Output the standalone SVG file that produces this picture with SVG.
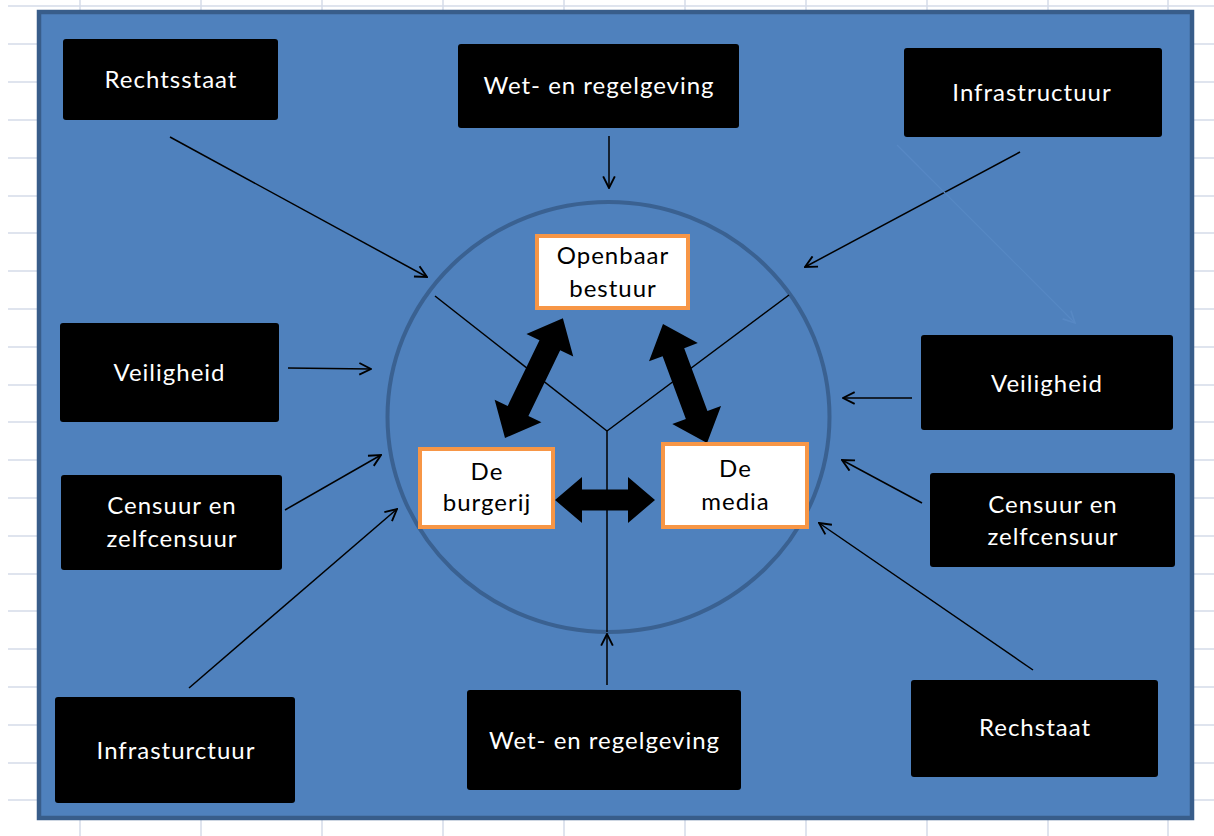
<svg xmlns="http://www.w3.org/2000/svg" width="1214" height="836" viewBox="0 0 1214 836">
<defs>
<style>
.grid line{stroke:#D4DBE8;stroke-width:1.5}
.bx{fill:#000}
.bt{font-family:Lato,"Open Sans",sans-serif;font-size:24px;letter-spacing:1px;fill:#fff;text-anchor:middle}
.ob{fill:#fff;stroke:#F79646;stroke-width:4}
.ot{font-family:Lato,"Open Sans",sans-serif;font-size:24px;letter-spacing:1px;fill:#000;text-anchor:middle}
.con line{stroke:#000;stroke-width:1.5;marker-end:url(#v)}
</style>
<marker id="v" viewBox="0 0 12 12" refX="11" refY="6" markerWidth="14" markerHeight="14" markerUnits="userSpaceOnUse" orient="auto">
<path d="M1,1 L11,6 L1,11" fill="none" stroke="#000" stroke-width="1.6"/>
</marker>
<marker id="vf" viewBox="0 0 12 12" refX="11" refY="6" markerWidth="14" markerHeight="14" markerUnits="userSpaceOnUse" orient="auto">
<path d="M1,1 L11,6 L1,11" fill="none" stroke="#5788C4" stroke-width="1.4"/>
</marker>
</defs>
<rect width="1214" height="836" fill="#fff"/>
<g class="grid">
<line x1="8" y1="6" x2="1214" y2="6"/><line x1="8" y1="44" x2="1214" y2="44"/><line x1="8" y1="82" x2="1214" y2="82"/><line x1="8" y1="120" x2="1214" y2="120"/><line x1="8" y1="158" x2="1214" y2="158"/><line x1="8" y1="196" x2="1214" y2="196"/><line x1="8" y1="233" x2="1214" y2="233"/><line x1="8" y1="271" x2="1214" y2="271"/><line x1="8" y1="309" x2="1214" y2="309"/><line x1="8" y1="347" x2="1214" y2="347"/><line x1="8" y1="385" x2="1214" y2="385"/><line x1="8" y1="422" x2="1214" y2="422"/><line x1="8" y1="460" x2="1214" y2="460"/><line x1="8" y1="498" x2="1214" y2="498"/><line x1="8" y1="536" x2="1214" y2="536"/><line x1="8" y1="574" x2="1214" y2="574"/><line x1="8" y1="611" x2="1214" y2="611"/><line x1="8" y1="649" x2="1214" y2="649"/><line x1="8" y1="687" x2="1214" y2="687"/><line x1="8" y1="725" x2="1214" y2="725"/><line x1="8" y1="763" x2="1214" y2="763"/><line x1="8" y1="800" x2="1214" y2="800"/>
<line x1="80" y1="0" x2="80" y2="836"/><line x1="201" y1="0" x2="201" y2="836"/><line x1="322" y1="0" x2="322" y2="836"/><line x1="443" y1="0" x2="443" y2="836"/><line x1="564" y1="0" x2="564" y2="836"/><line x1="685" y1="0" x2="685" y2="836"/><line x1="806" y1="0" x2="806" y2="836"/><line x1="927" y1="0" x2="927" y2="836"/><line x1="1048" y1="0" x2="1048" y2="836"/><line x1="1168" y1="0" x2="1168" y2="836"/>
</g>
<rect x="39" y="12" width="1153" height="806" fill="#4F81BD" stroke="#385D8A" stroke-width="4.5"/>
<ellipse cx="608.5" cy="417" rx="221" ry="215" fill="none" stroke="#3A6191" stroke-width="4"/>
<g id="radial" stroke="#000" stroke-width="1.5" fill="none">
<line x1="435" y1="296" x2="607" y2="431"/>
<line x1="789" y1="295" x2="607" y2="431"/>
<line x1="607" y1="431" x2="607" y2="632"/>
</g>
<g id="connectors">
<g class="con">
<line x1="170" y1="137" x2="427" y2="277"/>
<line x1="609" y1="136" x2="609" y2="188"/>
<line x1="1020" y1="152" x2="805" y2="267"/>
<line x1="288" y1="368" x2="371" y2="369"/>
<line x1="912" y1="398" x2="843" y2="398"/>
<line x1="285" y1="510" x2="381" y2="455"/>
<line x1="922" y1="503" x2="842" y2="460"/>
<line x1="189" y1="688" x2="397" y2="509"/>
<line x1="607" y1="685" x2="607" y2="634"/>
<line x1="1033" y1="670" x2="819" y2="523"/>
</g>
<line x1="897" y1="145" x2="1075" y2="323" stroke="#5788C4" stroke-width="1.2" marker-end="url(#vf)"/>
<g id="block-arrows" fill="#000">
<path transform="translate(555,500)" d="M0,0 L27,-23 L27,-10.5 L73,-10.5 L73,-23 L100,0 L73,23 L73,10.5 L27,10.5 L27,23 Z"/>
<path transform="translate(505,438) rotate(-64.2)" d="M0,0 L30,-26 L30,-11.5 L103,-11.5 L103,-26 L133,0 L103,26 L103,11.5 L30,11.5 L30,26 Z"/>
<path transform="translate(663,324) rotate(69.7)" d="M0,0 L30,-26 L30,-11.5 L97,-11.5 L97,-26 L127,0 L97,26 L97,11.5 L30,11.5 L30,26 Z"/>
</g>
</g>
<g id="openbaar"><rect class="ob" x="537" y="236" width="151" height="72"/><text class="ot" x="613" y="264">Openbaar</text><text class="ot" x="613" y="297">bestuur</text></g>
<g id="burgerij"><rect class="ob" x="420" y="449" width="133" height="78"/><text class="ot" x="487" y="480">De</text><text class="ot" x="487" y="511">burgerij</text></g>
<g id="media"><rect class="ob" x="663" y="444" width="144" height="83"/><text class="ot" x="735.5" y="477">De</text><text class="ot" x="735.5" y="510">media</text></g>
<g id="rechtsstaat"><rect class="bx" x="63" y="39" width="215" height="81" rx="3"/><text class="bt" x="171" y="88">Rechtsstaat</text></g>
<g id="wet-top"><rect class="bx" x="458" y="44" width="281" height="84" rx="3"/><text class="bt" x="599" y="94">Wet- en regelgeving</text></g>
<g id="infra-top"><rect class="bx" x="904" y="48" width="258" height="89" rx="3"/><text class="bt" x="1032" y="101">Infrastructuur</text></g>
<g id="veilig-left"><rect class="bx" x="60" y="323" width="219" height="99" rx="3"/><text class="bt" x="169.5" y="381">Veiligheid</text></g>
<g id="veilig-right"><rect class="bx" x="921" y="335" width="252" height="95" rx="3"/><text class="bt" x="1047" y="392">Veiligheid</text></g>
<g id="censuur-left"><rect class="bx" x="61" y="475" width="221" height="95" rx="3"/><text class="bt" x="172" y="514">Censuur en</text><text class="bt" x="172" y="547">zelfcensuur</text></g>
<g id="censuur-right"><rect class="bx" x="930" y="473" width="245" height="94" rx="3"/><text class="bt" x="1053" y="513">Censuur en</text><text class="bt" x="1053" y="545">zelfcensuur</text></g>
<g id="infra-bottom"><rect class="bx" x="55" y="697" width="240" height="106" rx="3"/><text class="bt" x="176" y="759">Infrasturctuur</text></g>
<g id="wet-bottom"><rect class="bx" x="467" y="690" width="274" height="100" rx="3"/><text class="bt" x="604.5" y="749">Wet- en regelgeving</text></g>
<g id="rechstaat"><rect class="bx" x="911" y="680" width="247" height="97" rx="3"/><text class="bt" x="1035" y="736">Rechstaat</text></g>
</svg>
